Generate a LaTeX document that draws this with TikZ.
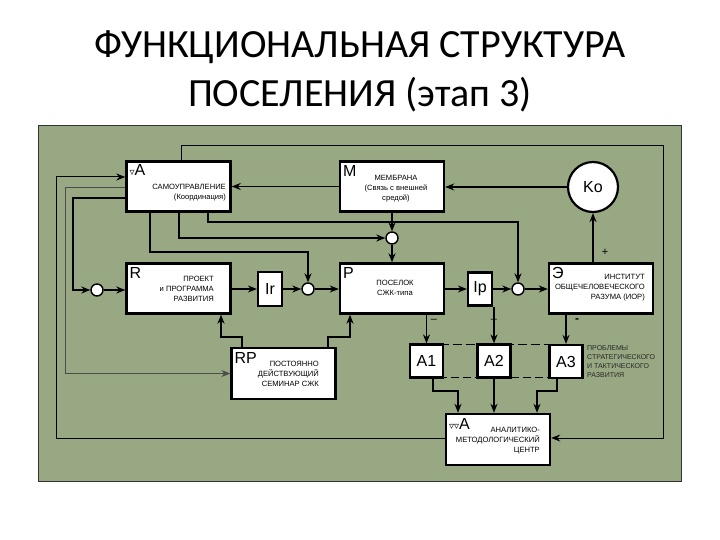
\documentclass[tikz,border=0pt]{standalone}
\usepackage{fontspec}
\setmainfont{Liberation Sans}
\newfontfamily\titlefont{Carlito}
\newfontfamily\symfont{DejaVu Sans}
\usetikzlibrary{arrows.meta}
\definecolor{bg}{RGB}{152,168,130}
\newcommand{\tri}{{\symfont\fontsize{10}{10}\selectfont ▿}}
\begin{document}
\begin{tikzpicture}[x=1pt,y=-1pt,
  box/.style={draw, fill=white, line width=2.4pt, minimum width=104pt, minimum height=50pt, inner sep=0pt},
  sbox/.style={draw, fill=white, line width=2.2pt, inner sep=0pt},
  jn/.style={circle, draw, fill=white, line width=1.4pt, minimum size=12pt, inner sep=0pt},
  conn/.style={line width=1.3pt},
  arr/.style={conn, -{Stealth[length=9pt,width=7pt]}},
  thinarr/.style={line width=0.8pt, black!70, -{Stealth[length=9pt,width=7pt]}},
  big/.style={font=\fontsize{16}{16}\selectfont},
  letter/.style={big, anchor=north west, inner sep=1pt},
  small/.style={font=\fontsize{7.6}{10}\selectfont, inner sep=0pt},
  ttl/.style={font=\titlefont\fontsize{40}{40}\selectfont, anchor=base, inner sep=0pt}
]
\useasboundingbox (0,0) rectangle (720,540);
\fill[white] (0,0) rectangle (720,540);
\node[ttl] (t1) at (360,58) {ФУНКЦИОНАЛЬНАЯ СТРУКТУРА};
\node[ttl] (t2) at (360,107) {ПОСЕЛЕНИЯ (этап 3)};
\filldraw[fill=bg, draw=black!80, line width=0.8pt] (38,125) rectangle (681,481);

% main boxes
\node[box] (A) at (178.5,186.5) {};
\node[box] (M) at (392,186.5) {};
\node[circle, draw, fill=white, line width=2.2pt, minimum size=50pt, inner sep=0pt, big] (Ko) at (593,187) {Ko};
\node[box] (R) at (178.5,288.5) {};
\node[box] (P) at (392,288.5) {};
\node[box] (E) at (601,288.5) {};
\node[box, minimum height=51pt] (RP) at (283.5,373.5) {};
\node[box, minimum height=51pt] (AA) at (498,439.5) {};
\node[sbox, minimum width=24pt, minimum height=34pt, big] (Ir) at (270,289) {Ir};
\node[sbox, minimum width=24pt, minimum height=33pt, big] (Ip) at (480,289) {Ip};

% dashed links between A1..A3
\draw[dash pattern=on 9pt off 4pt, line width=1.6pt] (426.5,344.5) -- (566,344.5);
\draw[dash pattern=on 8pt off 4pt, line width=1.1pt] (426.5,377.5) -- (566,377.5);

\node[sbox, minimum size=33pt, big] (A1) at (426.5,361) {A1};
\node[sbox, minimum size=33pt, big] (A2) at (494,361) {A2};
\node[sbox, minimum size=33pt, big] (A3) at (566,361.5) {A3};

% junctions
\node[jn] (j1) at (97,290) {};
\node[jn] (j2) at (308,289) {};
\node[jn] (j3) at (392,238) {};
\node[jn] (j4) at (518,289) {};

% letters
\node[letter] at ([xshift=3pt,yshift=-3pt]A.north west) {\tri A};
\node[letter] at ([xshift=3pt,yshift=-4pt]M.north west) {M};
\node[letter] at ([xshift=3pt,yshift=-4pt]R.north west) {R};
\node[letter] at ([xshift=3pt,yshift=-4pt]P.north west) {P};
\node[letter] at ([xshift=3pt,yshift=-4pt]E.north west) {Э};
\node[letter] at ([xshift=3pt,yshift=-4pt]RP.north west) {RP};
\node[letter] at ([xshift=3pt,yshift=-4pt]AA.north west) {\tri\tri A};

% descriptions
\node[small, align=right, anchor=east] at (226,193) {САМОУПРАВЛЕНИЕ\\(Координация)};
\node[small, align=center] at (396,189) {МЕМБРАНА\\(Связь с внешней\\средой)};
\node[small, align=right, anchor=east] at (214,289) {ПРОЕКТ\\и ПРОГРАММА\\РАЗВИТИЯ};
\node[small, align=center] at (395,288) {ПОСЕЛОК\\СЖК-типа};
\node[small, align=right, anchor=east] at (645,288) {ИНСТИТУТ\\ОБЩЕЧЕЛОВЕЧЕСКОГО\\РАЗУМА (ИОР)};
\node[small, align=right, anchor=east] at (319,374) {ПОСТОЯННО\\ДЕЙСТВУЮЩИЙ\\СЕМИНАР СЖК};
\node[small, align=right, anchor=east] at (540,441) {АНАЛИТИКО-\\МЕТОДОЛОГИЧЕСКИЙ\\ЦЕНТР};
\node[small, align=left, anchor=west, font=\fontsize{7}{9}\selectfont, text=black!85] at (587,362) {ПРОБЛЕМЫ\\СТРАТЕГИЧЕСКОГО\\И ТАКТИЧЕСКОГО\\РАЗВИТИЯ};

% helper coordinates
\coordinate (b1) at (150,252);
\coordinate (b2) at (179,238);
\coordinate (b3) at (208,222);
\coordinate (c1) at (73,198);
\coordinate (c2) at (65,187);
\coordinate (c3) at (56,438);
\coordinate (c4) at (56,177);
\coordinate (d1) at (181,146);
\coordinate (d2) at (663,438);
\coordinate (e1) at (242,337);
\coordinate (e2) at (221,337);
\coordinate (e3) at (328,337);
\coordinate (e4) at (350,337);
\coordinate (f1) at (433,391);
\coordinate (f2) at (458,391);
\coordinate (f3) at (557,391);
\coordinate (f4) at (537,391);

% connectors
\draw[arr] (Ko.west) -- (Ko.west -| M.east);
\draw[arr] (M.west) -- (A.east);
\draw[arr] (M.south) -- (j3);
\draw[arr] (j3) -- (P.north);
\draw[arr] (b1 |- A.south) -- (b1) -| (j2);
\draw[arr] (b2 |- A.south) -- (b2) -- (j3);
\draw[arr] (b3 |- A.south) -- (b3) -| (j4);
\draw[arr] (c1 -| A.west) -- (c1) |- (j1);
\draw[arr] (j1) -- (j1 -| R.west);
\draw[thinarr] (c2 -| A.west) -- (c2) |- (RP.west);
\draw[arr, line width=1pt] (c3 -| AA.west) -- (c3) -- (c4) -- (c4 -| A.west);
\draw[arr, line width=1pt] (d1 |- A.north) -- (d1) -| (d2) -- (d2 -| AA.east);
\draw[arr] (Ir.west -| R.east) -- (Ir.west);
\draw[arr] (Ir.east) -- (j2);
\draw[arr] (j2) -- (j2 -| P.west);
\draw[arr] (Ip.west -| P.east) -- (Ip.west);
\draw[arr] (Ip.east) -- (j4);
\draw[arr] (j4) -- (j4 -| E.west);
\draw[arr] (E.north -| Ko.south) -- (Ko.south);
\draw[arr] (e1 |- RP.north) -- (e1) -- (e2) -- (e2 |- R.south);
\draw[arr] (e3 |- RP.north) -- (e3) -- (e4) -- (e4 |- P.south);
\draw[arr] (P.south -| A1.north) -- (A1.north);
\draw[arr] (Ip.south -| A2.north) -- (A2.north);
\draw[arr] (E.south -| A3.north) -- (A3.north);
\draw[arr] (f1 |- A1.south) -- (f1) -- (f2) -- (f2 |- AA.north);
\draw[arr] (A2.south) -- (A2.south |- AA.north);
\draw[arr] (f3 |- A3.south) -- (f3) -- (f4) -- (f4 |- AA.north);

% signs
\node[font=\fontsize{11}{11}\selectfont] at (605,252) {+};
\node[font=\fontsize{11}{11}\selectfont] at (434,321) {–};
\node[font=\fontsize{11}{11}\selectfont] at (494,321) {–};
\node[font=\bfseries\fontsize{12}{12}\selectfont] at (577,321) {-};
\end{tikzpicture}
\end{document}
